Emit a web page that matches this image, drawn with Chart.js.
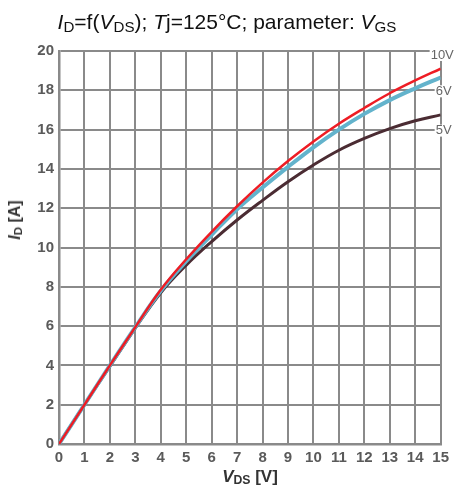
<!DOCTYPE html>
<html>
<head>
<meta charset="utf-8">
<script src="https://cdn.jsdelivr.net/npm/chart.js@4"></script>
<style>
  body { margin: 0; background: #fff; font-family: "Liberation Sans", Arial, sans-serif; }
  #wrap { position: relative; width: 454px; height: 488px; }
  #chart { position: absolute; left: 0; top: 0; }
  .title { position: absolute; left: 0; top: 22px; width: 454px; transform: translateY(-50%); text-align: center; font-size: 21px; line-height: 24px; color: #111; }
  .ytitle { position: absolute; left: 15px; top: 220px; transform: translate(-50%, -50%) rotate(-90deg); font-size: 16px; font-weight: bold; color: #333; white-space: nowrap; }
  .xtitle { position: absolute; left: 250px; top: 477px; transform: translate(-50%, -50%); font-size: 17px; font-weight: bold; color: #333; white-space: nowrap; }
  sub { font-size: 0.72em; vertical-align: -0.2em; line-height: 0; }
</style>
</head>
<body>
<div id="wrap">
  <canvas id="chart" width="454" height="488"></canvas>
  <div class="title"><i>I</i><sub>D</sub>=f(<i>V</i><sub>DS</sub>); <i>T</i>j=125°C; parameter: <i>V</i><sub>GS</sub></div>
  <div class="ytitle"><i>I</i><sub>D</sub> [A]</div>
  <div class="xtitle"><i>V</i><sub>DS</sub> [V]</div>
</div>
<script>
const vds = [0, 1, 2, 3, 4, 5, 6, 7, 8, 9, 10, 11, 12, 13, 14, 15];
const id10V = [0, 2.0, 4.0, 5.95, 7.85, 9.4, 10.8, 12.1, 13.3, 14.4, 15.4, 16.3, 17.1, 17.85, 18.5, 19.1];
const id6V  = [0, 2.0, 4.0, 5.95, 7.8, 9.3, 10.65, 11.95, 13.05, 14.1, 15.1, 16.0, 16.8, 17.5, 18.1, 18.65];
const id5V  = [0, 2.0, 3.95, 5.9, 7.7, 9.1, 10.3, 11.4, 12.4, 13.35, 14.2, 14.95, 15.55, 16.05, 16.45, 16.75];
const curveLabels = ['10V', '6V', '5V'];
const curveLabelTicks = [20, 18, 16];

const gridColor = '#8a8a8a';
const tickColor = '#5a5a5a';

function pts(ys) { return vds.map((x, i) => ({ x: x, y: ys[i] })); }

// curve names at the right edge, on a white patch over the border
const curveLabelPlugin = {
    id: 'curveLabels',
    afterDraw(chart) {
        const ctx = chart.ctx;
        const yScale = chart.scales.y;
        const x = chart.chartArea.right - 11;
        ctx.save();
        ctx.font = '13px "Liberation Sans", Arial, sans-serif';
        ctx.textBaseline = 'middle';
        ctx.textAlign = 'left';
        curveLabels.forEach((txt, i) => {
            const y = yScale.getPixelForValue(curveLabelTicks[i]) + (i === 0 ? 4 : 1);
            const w = ctx.measureText(txt).width;
            const lx = x + (i === 0 ? 0 : 5);
            ctx.fillStyle = '#fff';
            ctx.fillRect(lx, y - 6, w + 2, 12);
            ctx.fillStyle = '#666';
            ctx.fillText(txt, lx + 1, y);
        });
        ctx.restore();
    }
};

new Chart(document.getElementById('chart').getContext('2d'), {
    type: 'line',
    data: {
        datasets: [
            { label: '10V', data: pts(id10V), borderColor: '#ee1c24', borderWidth: 2.5, pointRadius: 0, tension: 0.4 },
            { label: '6V', data: pts(id6V), borderColor: '#63b3cc', borderWidth: 4, pointRadius: 0, tension: 0.4 },
            { label: '5V', data: pts(id5V), borderColor: '#4b2c33', borderWidth: 3, pointRadius: 0, tension: 0.4 }
        ]
    },
    options: {
        responsive: false, animation: false,
        layout: { padding: { top: 51, left: 0, right: 13, bottom: 0 } },
        plugins: { legend: { display: false }, tooltip: { enabled: false } },
        scales: {
            x: {
                type: 'linear', min: 0, max: 15,
                ticks: { stepSize: 1, padding: 5, color: tickColor, font: { family: 'Liberation Sans', size: 15, weight: 'bold' } },
                grid: { color: gridColor, lineWidth: 2, drawTicks: false },
                border: { color: gridColor, width: 2.5 },
                afterFit: s => { s.height = 44; }
            },
            y: {
                min: 0, max: 20,
                ticks: { stepSize: 1, padding: 5, color: tickColor, font: { family: 'Liberation Sans', size: 15, weight: 'bold' },
                         callback: v => v % 2 === 0 ? v : '' },
                grid: { color: gridColor, lineWidth: 2, drawTicks: false },
                border: { color: gridColor, width: 2.5 },
                afterFit: s => { s.width = 59; }
            }
        }
    },
    plugins: [curveLabelPlugin]
});
</script>
</body>
</html>
